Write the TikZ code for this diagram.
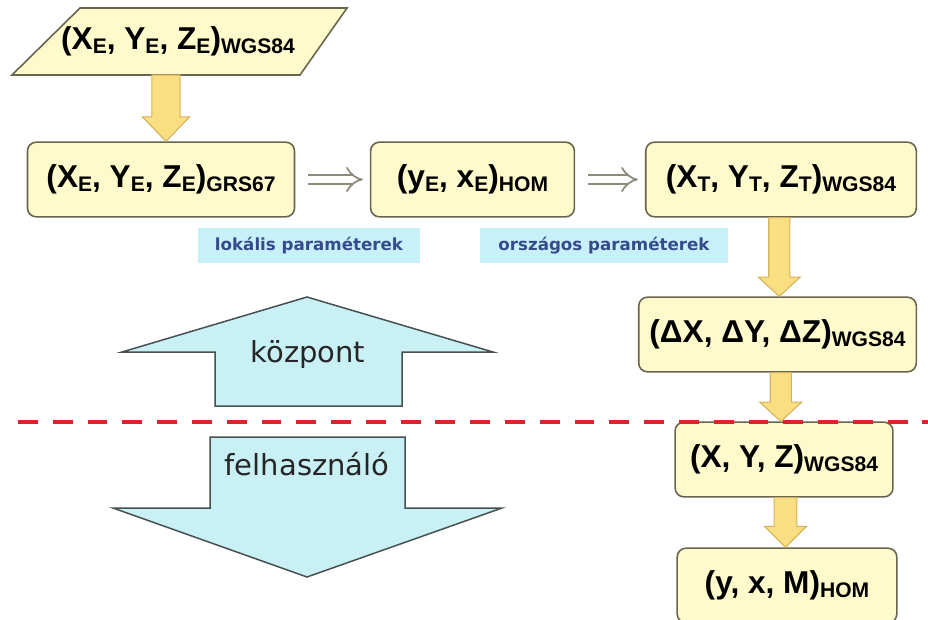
\documentclass[tikz,border=0pt]{standalone}
\usepackage{fontspec}
\setmainfont{Liberation Sans}
\newfontfamily\lblfont{DejaVu Sans}
\usetikzlibrary{arrows.meta,calc}

\definecolor{boxfill}{RGB}{255,250,204}
\definecolor{boxline}{RGB}{105,100,78}
\definecolor{arrowfill}{RGB}{250,222,130}
\definecolor{arrowline}{RGB}{212,178,92}
\definecolor{lblfill}{RGB}{200,240,248}
\definecolor{lbltext}{RGB}{55,75,140}
\definecolor{bigfill}{RGB}{200,240,245}
\definecolor{bigline}{RGB}{70,80,80}
\definecolor{cutred}{RGB}{220,35,45}

% subscript of the coordinate labels
\newcommand{\lowsub}[1]{\raisebox{-2pt}{\fontsize{12}{12}\selectfont #1}}

\begin{document}
\begin{tikzpicture}[x=0.02cm,y=-0.02cm,
        box/.style={draw=boxline,fill=boxfill,rounded corners=5pt,line width=0.9pt,
          minimum height=42.5pt,inner sep=0pt,font=\fontsize{18}{20}\selectfont\bfseries},
        boxtxt/.style={inner sep=0pt,font=\fontsize{18}{20}\selectfont\bfseries},
        lbl/.style={fill=lblfill,text=lbltext,inner sep=0pt,minimum height=19.8pt,
          font=\lblfont\bfseries\fontsize{9.5}{11}\selectfont},
        big/.style={fill=bigfill,draw=bigline,line width=0.85pt},
        bigtxt/.style={text=black!85,font=\lblfont\fontsize{16.5}{18}\selectfont},
        fat/.style n args={3}{fill=arrowfill,draw=arrowline,line width=0.6pt,
          to path={let \p1=(\tikztostart),\p2=(\tikztotarget),
            \p3=($(\tikztostart)!0.5!(\tikztotarget)$) in
            (\x3-#1,\y1) -- (\x3-#1,\y2+#3) -- (\x3-#2,\y2+#3) -- (\x3,\y2)
            -- (\x3+#2,\y2+#3) -- (\x3+#1,\y2+#3) -- (\x3+#1,\y1) -- cycle}},
        hollow/.style={draw=boxline!75,double=white,double distance=4pt,line width=1pt,
          -{Implies},shorten <=7pt,shorten >=4pt},
        cut/.style={draw=cutred,line width=2.5pt,dash pattern=on 11.3pt off 8.5pt}]
        \useasboundingbox (0,0) rectangle (928,619);

        % kozpont / felhasznalo
        \filldraw[big] (307,297) -- (493,352) -- (402,352) -- (402,406) -- (215,406)
          -- (215,352) -- (122,352) -- cycle;
        \filldraw[big] (210,437) -- (405,437) -- (405,508) -- (502,508) -- (307,577)
          -- (113,508) -- (210,508) -- cycle;
        \node[bigtxt,anchor=base] (kp) at (308,362) {központ};
        \node[bigtxt,anchor=base] (fh) at (307,475) {felhasználó};

        \node[lbl,minimum width=126pt] (lok) at (309,245.5) {lokális paraméterek};
        \node[lbl,minimum width=140.6pt] (orsz) at (604,245.5) {országos paraméterek};

        % input data (parallelogram)
        \filldraw[draw=boxline,fill=boxfill,line width=0.9pt]
          (80,8) -- (347,8) -- (300,75) -- (12,75) -- cycle;
        \node[boxtxt] (input) at (178,41.5) {(X\lowsub{E}, Y\lowsub{E}, Z\lowsub{E})\lowsub{WGS84}};
        \coordinate (inputS) at (171,75);

        \node[box,minimum width=152pt] (grs) at (161,179.5) {(X\lowsub{E}, Y\lowsub{E}, Z\lowsub{E})\lowsub{GRS67}};
        \node[box,minimum width=116pt] (hom) at (472.5,179.5) {(y\lowsub{E}, x\lowsub{E})\lowsub{HOM}};
        \node[box,minimum width=154pt] (wgsT) at (781,179.5) {(X\lowsub{T}, Y\lowsub{T}, Z\lowsub{T})\lowsub{WGS84}};
        \node[box,minimum width=158pt] (delta) at (777.5,334.5) {(ΔX, ΔY, ΔZ)\lowsub{WGS84}};
        \node[box,minimum width=124pt] (wgs) at (784,459.5) {(X, Y, Z)\lowsub{WGS84}};
        \node[box,minimum width=125pt] (homM) at (787,585.5) {(y, x, M)\lowsub{HOM}};

        \path[fat={8pt}{13.5pt}{14pt}] (inputS) to (grs.north);
        \path[fat={6pt}{12pt}{11pt}] (wgsT.south) to (delta.north);
        \path[fat={6pt}{12pt}{11pt}] (delta.south) to (wgs.north);
        \path[fat={6.5pt}{12pt}{12pt}] (wgs.south) to (homM.north);

        \draw[hollow] (grs) -- (hom);
        \draw[hollow] (hom) -- (wgsT);

        % border of the centre and the user side
        \coordinate (cutL) at (18,422);
        \coordinate (cutR) at (928,422);
        \draw[cut] (cutL) -- (cutR);
\end{tikzpicture}
\end{document}
